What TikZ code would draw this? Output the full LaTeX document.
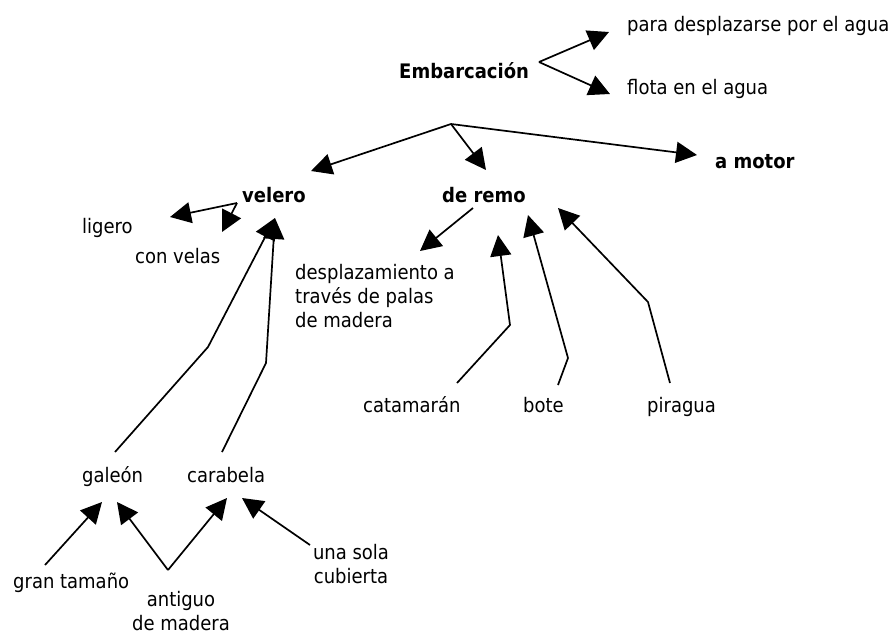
\documentclass[tikz,border=0pt]{standalone}
\usepackage{fontspec}
\setmainfont{DejaVu Sans Condensed}
\usetikzlibrary{arrows.meta}
\tikzset{
  lbl/.style={inner sep=0pt, anchor=base west, font=\fontsize{20}{24}\selectfont},
  blbl/.style={lbl, font=\fontsize{20}{24}\selectfont\bfseries},
  conn/.style={line width=1.7pt, -{Triangle[length=21pt,width=21pt]}},
}
\begin{document}
\begin{tikzpicture}[x=1pt,y=-1pt]
\useasboundingbox (0,0) rectangle (895,633);
% text nodes
\node[lbl]  (para)  at (627,31)  {para desplazarse por el agua};
\node[blbl] (emb)   at (399,78)  {Embarcación};
\node[lbl]  (flota) at (627,94)  {flota en el agua};
\node[blbl] (motor) at (715,168) {a motor};
\node[blbl] (velero) at (242,202) {velero};
\node[blbl] (remo)  at (442,202) {de remo};
\node[lbl]  (ligero) at (82,233) {ligero};
\node[lbl]  (velas) at (135,263) {con velas};
\node[lbl, align=left] (desp) at (295,327) {desplazamiento a\\través de palas\\de madera};
\node[lbl]  (cata)  at (363,412) {catamarán};
\node[lbl]  (bote)  at (523,412) {bote};
\node[lbl]  (pira)  at (647,412) {piragua};
\node[lbl]  (galeon) at (82,482) {galeón};
\node[lbl]  (carab) at (187,482) {carabela};
\node[lbl]  (gran)  at (13,588)  {gran tamaño};
\node[lbl, anchor=base, align=center] (antiguo) at (181,630) {antiguo\\de madera};
\node[lbl, anchor=base, align=center] (sola) at (351,583) {una sola\\cubierta};
% connector points
\coordinate (E)  at (539,62);
\coordinate (E1) at (609,32);
\coordinate (E2) at (610,94);
\coordinate (B)  at (451,124);
\coordinate (Bv) at (311,171);
\coordinate (Br) at (486,170);
\coordinate (Bm) at (697,155);
\coordinate (V)  at (237,203);
\coordinate (Vl) at (170,217);
\coordinate (Vc) at (222,232);
\coordinate (G0) at (115,452);
\coordinate (G1) at (208,347);
\coordinate (C0) at (222,452);
\coordinate (C1) at (266,363);
\coordinate (VT) at (275,218);
\coordinate (R)  at (473,208);
\coordinate (Rd) at (420,251);
\coordinate (K0) at (457,383);
\coordinate (K1) at (510,325);
\coordinate (K2) at (498,235);
\coordinate (T0) at (558,385);
\coordinate (T1) at (568,358);
\coordinate (T2) at (528,215);
\coordinate (P0) at (670,383);
\coordinate (P1) at (648,302);
\coordinate (P2) at (558,208);
\coordinate (g0) at (45,565);
\coordinate (g1) at (102,502);
\coordinate (a0) at (168,570);
\coordinate (a1) at (117,502);
\coordinate (a2) at (227,498);
\coordinate (s0) at (310,545);
\coordinate (s1) at (242,498);
% connectors
\draw[conn] (E) -- (E1);
\draw[conn] (E) -- (E2);
\draw[conn] (B) -- (Bv);
\draw[conn] (B) -- (Br);
\draw[conn] (B) -- (Bm);
\draw[conn] (V) -- (Vl);
\draw[conn] (V) -- (Vc);
\draw[conn] (G0) -- (G1) -- (VT);
\draw[conn] (C0) -- (C1) -- (VT);
\draw[conn] (R) -- (Rd);
\draw[conn] (K0) -- (K1) -- (K2);
\draw[conn] (T0) -- (T1) -- (T2);
\draw[conn] (P0) -- (P1) -- (P2);
\draw[conn] (g0) -- (g1);
\draw[conn] (a0) -- (a1);
\draw[conn] (a0) -- (a2);
\draw[conn] (s0) -- (s1);
\end{tikzpicture}
\end{document}
